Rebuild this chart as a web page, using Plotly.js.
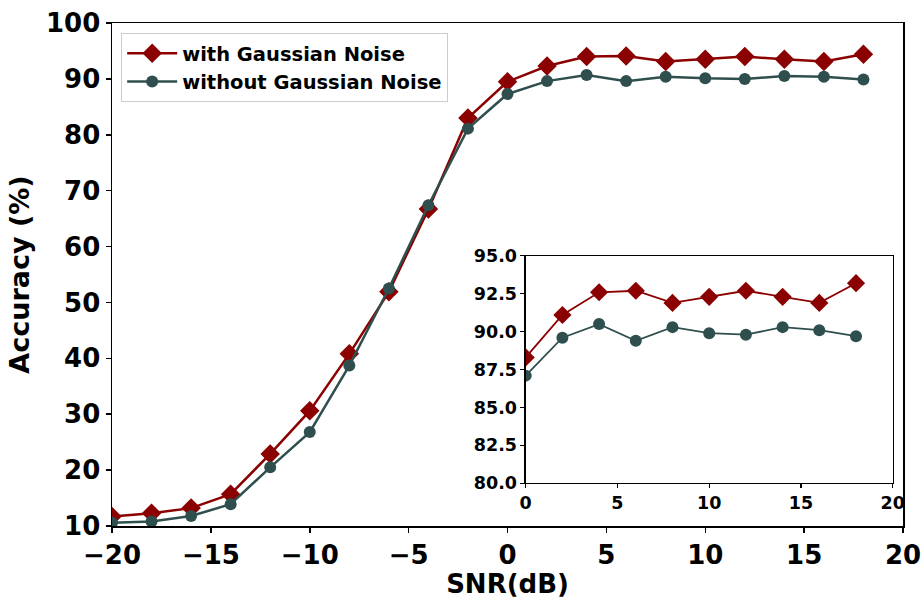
<!DOCTYPE html>
<html>
<head>
<meta charset="utf-8">
<script src="https://cdn.plot.ly/plotly-3.0.1.min.js"></script>
<style>html,body{margin:0;padding:0;background:#fff;}#chart{width:924px;height:599px;}</style>
</head>
<body>
<div id="chart"></div>
<script>
// Main chart data
const snr = [-20,-18,-16,-14,-12,-10,-8,-6,-4,-2,0,2,4,6,8,10,12,14,16,18];
const withNoise = [11.7,12.3,13.2,15.7,22.9,30.6,40.8,51.9,66.7,83.0,89.5,92.3,94.0,94.1,93.1,93.5,94.0,93.5,93.1,94.4];
const withoutNoise = [10.6,10.8,11.8,13.9,20.5,26.8,38.7,52.5,67.4,81.1,87.3,89.6,90.7,89.6,90.4,90.1,90.0,90.5,90.4,89.9];
// Inset data
const insetSnr = [0,2,4,6,8,10,12,14,16,18];
const insetWith = [88.3,91.1,92.6,92.7,91.9,92.3,92.7,92.3,91.9,93.2];
const insetWithout = [87.1,89.6,90.5,89.4,90.3,89.9,89.8,90.3,90.1,89.7];
// Labels
const seriesNames = ['with Gaussian Noise','without Gaussian Noise'];
const mainXTicks = [-20,-15,-10,-5,0,5,10,15,20];
const mainYTicks = [10,20,30,40,50,60,70,80,90,100];
const insetXTicks = [0,5,10,15,20];
const insetYTicks = [80,82.5,85,87.5,90,92.5,95];

const RED = '#8b0000', GREEN = '#2f4f4f';
const FONT = 'DejaVu Sans, sans-serif';

const traces = [
  {x: snr, y: withNoise, name: seriesNames[0], type: 'scatter', mode: 'lines+markers',
   line: {color: RED, width: 2.5}, marker: {symbol: 'diamond', size: 15, color: RED}, xaxis: 'x', yaxis: 'y'},
  {x: snr, y: withoutNoise, name: seriesNames[1], type: 'scatter', mode: 'lines+markers',
   line: {color: GREEN, width: 2.5}, marker: {symbol: 'circle', size: 12, color: GREEN}, xaxis: 'x', yaxis: 'y'},
  {x: insetSnr, y: insetWith, name: seriesNames[0], type: 'scatter', mode: 'lines+markers', showlegend: false,
   line: {color: RED, width: 1.8}, marker: {symbol: 'diamond', size: 14, color: RED}, xaxis: 'x2', yaxis: 'y2'},
  {x: insetSnr, y: insetWithout, name: seriesNames[1], type: 'scatter', mode: 'lines+markers', showlegend: false,
   line: {color: GREEN, width: 1.8}, marker: {symbol: 'circle', size: 12, color: GREEN}, xaxis: 'x2', yaxis: 'y2'}
];

const axBase = {showline: true, linecolor: '#000', mirror: true, showgrid: false, zeroline: false,
  ticks: 'outside', tickcolor: '#000'};

const layout = {
  width: 924, height: 599,
  margin: {l: 112, r: 21, t: 23, b: 73, pad: 0},
  paper_bgcolor: '#fff', plot_bgcolor: '#fff',
  font: {family: FONT, color: '#000', weight: 'bold'},
  showlegend: true,
  legend: {x: 0.0116, y: 0.98, xanchor: 'left', yanchor: 'top', bgcolor: '#fff',
    bordercolor: '#cccccc', borderwidth: 1, font: {size: 19.5, family: FONT, weight: 'bold', color: '#000'},
    tracegroupgap: 0, itemwidth: 50},
  xaxis: Object.assign({}, axBase, {domain: [0, 1], range: [-20, 20], tickvals: mainXTicks,
    ticktext: mainXTicks.map(v => v < 0 ? '\u2212' + Math.abs(v) : String(v)),
    ticklen: 5, tickwidth: 1.5, linewidth: 1.5,
    tickfont: {size: 26, family: FONT, weight: 'bold'},
    title: {text: 'SNR(dB)', font: {size: 26, family: FONT, weight: 'bold'}, standoff: 6}}),
  yaxis: Object.assign({}, axBase, {domain: [0, 1], range: [10, 100], tickvals: mainYTicks,
    ticklen: 5, tickwidth: 1.5, linewidth: 1.5,
    tickfont: {size: 26, family: FONT, weight: 'bold'},
    title: {text: 'Accuracy (%)', font: {size: 27, family: FONT, weight: 'bold'}, standoff: 8}}),
  xaxis2: Object.assign({}, axBase, {domain: [0.523, 0.987], range: [0, 20], anchor: 'y2', tickvals: insetXTicks,
    ticklen: 4, tickwidth: 1.2, linewidth: 1.2,
    tickfont: {size: 17.5, family: FONT, weight: 'bold'}}),
  yaxis2: Object.assign({}, axBase, {domain: [0.085, 0.537], range: [80, 95], anchor: 'x2', tickvals: insetYTicks,
    ticktext: insetYTicks.map(v => v.toFixed(1)),
    ticklen: 4, tickwidth: 1.2, linewidth: 1.2,
    tickfont: {size: 17.5, family: FONT, weight: 'bold'}})
};

Plotly.newPlot('chart', traces, layout, {displayModeBar: false, staticPlot: true});
</script>
</body>
</html>
